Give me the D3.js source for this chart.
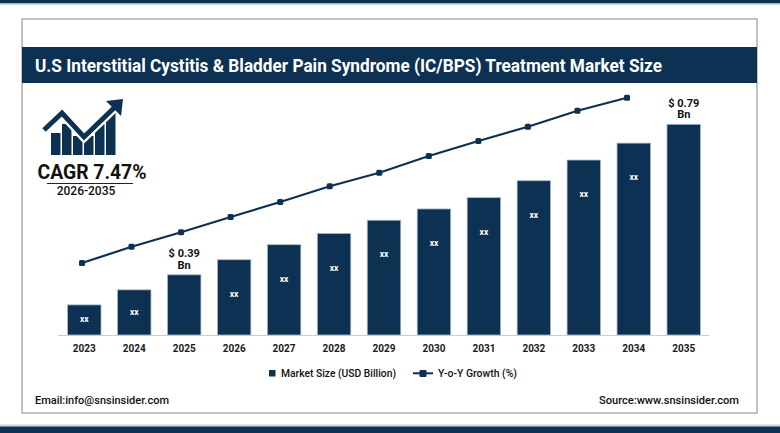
<!DOCTYPE html>
<html>
<head>
<meta charset="utf-8">
<script src="https://cdn.jsdelivr.net/npm/d3@7"></script>
<style>
  html, body { margin: 0; padding: 0; background: #fff; }
  svg { display: block; font-family: Roboto, "Liberation Sans", sans-serif; }
</style>
</head>
<body>
<svg id="chart" width="780" height="433"></svg>
<script>
// ---- data ----
const years = ["2023","2024","2025","2026","2027","2028","2029","2030","2031","2032","2033","2034","2035"];
const marketSize = [0.31, 0.35, 0.39, 0.43, 0.47, 0.50, 0.535, 0.565, 0.595, 0.64, 0.695, 0.74, 0.79];
const barLabels = ["xx","xx","","xx","xx","xx","xx","xx","xx","xx","xx","xx",""];
const growthYears = ["2023","2024","2025","2026","2027","2028","2029","2030","2031","2032","2033","2034"];
const growth = [2.88, 3.53, 4.11, 4.72, 5.32, 5.95, 6.49, 7.16, 7.76, 8.33, 8.97, 9.49];
const callouts = [{year: "2025", text: ["$ 0.39", "Bn"]}, {year: "2035", text: ["$ 0.79", "Bn"]}];
const titleText = "U.S Interstitial Cystitis & Bladder Pain Syndrome (IC/BPS) Treatment Market Size";
const cagrText = "CAGR 7.47%";
const cagrPeriod = "2026-2035";
const legendItems = ["Market Size (USD Billion)", "Y-o-Y Growth (%)"];
const footerLeft = "Email:info@snsinsider.com";
const footerRight = "Source:www.snsinsider.com";

const NAVY = "#0c3152";
const svg = d3.select("#chart");

// ---- frame ----
svg.append("rect").attr("x",0).attr("y",0).attr("width",780).attr("height",3.5).attr("fill",NAVY);
svg.append("rect").attr("x",0).attr("y",3.5).attr("width",780).attr("height",1.5).attr("fill","#c9d4de");
svg.append("rect").attr("x",0).attr("y",424.5).attr("width",780).attr("height",2).attr("fill","#c9d4de");
svg.append("rect").attr("x",0).attr("y",426.5).attr("width",780).attr("height",6.5).attr("fill",NAVY);

svg.append("rect").attr("x",22).attr("y",19).attr("width",735).attr("height",394)
  .attr("fill","#fff").attr("stroke","#9a9a9a").attr("stroke-width",1.2);
svg.append("rect").attr("x",22).attr("y",47).attr("width",735).attr("height",36).attr("fill",NAVY);
svg.append("text").attr("x",35).attr("y",72).attr("fill","#fff")
  .attr("font-size",19).attr("font-weight",700)
  .attr("textLength",627).attr("lengthAdjust","spacingAndGlyphs")
  .text(titleText);

// ---- CAGR icon ----
const icon = svg.append("g");
const iconBars = [[51,133],[62,124],[73,136],[84,136],[95,124],[106,112]];
icon.selectAll("rect").data(iconBars).join("rect")
  .attr("x",d=>d[0]).attr("y",d=>d[1]).attr("width",9.5).attr("height",d=>155-d[1]).attr("fill",NAVY);
const zig = [[44,130],[62,113],[84,137],[116,106]];
icon.append("polyline").attr("points",zig.map(p=>p.join(",")).join(" "))
  .attr("fill","none").attr("stroke","#fff").attr("stroke-width",9.5).attr("stroke-linejoin","miter");
icon.append("polyline").attr("points",zig.map(p=>p.join(",")).join(" "))
  .attr("fill","none").attr("stroke",NAVY).attr("stroke-width",5).attr("stroke-linejoin","miter");
icon.append("polygon").attr("points","106,101 123,99 121,116").attr("fill",NAVY);

svg.append("text").attr("x",92).attr("y",179).attr("text-anchor","middle")
  .attr("font-size",20).attr("font-weight",700).attr("fill","#111")
  .attr("textLength",109).attr("lengthAdjust","spacingAndGlyphs").text(cagrText);
svg.append("line").attr("x1",47).attr("x2",133).attr("y1",183.5).attr("y2",183.5)
  .attr("stroke","#222").attr("stroke-width",1);
svg.append("text").attr("x",86).attr("y",195).attr("text-anchor","middle")
  .attr("font-size",12).attr("font-weight",500).attr("fill","#111").text(cagrPeriod);

// ---- scales ----
const x = d3.scaleBand().domain(years).range([59.3, 708.7]).paddingInner(0.33).paddingOuter(0.165);
const y = d3.scaleLinear().domain([0.23, 0.79]).range([335, 124.3]);
const xl = d3.scalePoint().domain(growthYears).range([82, 627]);
const y2 = d3.scaleLinear().domain([0, 10]).range([335, 85]);

// ---- bars ----
svg.append("g").selectAll("rect").data(years).join("rect")
  .attr("x", d => x(d)).attr("width", x.bandwidth())
  .attr("y", (d,i) => y(marketSize[i])).attr("height", (d,i) => y.range()[0] - y(marketSize[i]))
  .attr("fill", NAVY).attr("stroke","#a9b8c6").attr("stroke-width",0.8);

svg.append("g").selectAll("text").data(years).join("text")
  .attr("x", d => x(d) + x.bandwidth()/2)
  .attr("y", (d,i) => { const top = y(marketSize[i]); const h = y.range()[0]-top; return top + Math.min(h*0.5, 35); })
  .attr("dominant-baseline","middle").attr("text-anchor","middle")
  .attr("font-size",8.5).attr("font-weight",700).attr("fill","#fff")
  .text((d,i) => barLabels[i]);

// axis
const axis = svg.append("g").attr("transform","translate(0,335)")
  .call(d3.axisBottom(x).tickSize(0).tickPadding(10));
axis.select(".domain").attr("stroke","#cccccc").attr("stroke-width",1.2)
  .attr("d","M58,0.5H709");
axis.selectAll("text").attr("font-size",10).attr("font-weight",700).attr("fill","#1a1a1a")
  .attr("font-family","Roboto, sans-serif");

// callouts
callouts.forEach(c => {
  const i = years.indexOf(c.year);
  const cx = x(c.year) + x.bandwidth()/2;
  const top = y(marketSize[i]);
  svg.append("text").attr("x",cx).attr("y",top-17.5).attr("text-anchor","middle")
    .attr("font-size",11).attr("font-weight",700).attr("fill","#111").text(c.text[0]);
  svg.append("text").attr("x",cx).attr("y",top-6).attr("text-anchor","middle")
    .attr("font-size",11).attr("font-weight",700).attr("fill","#111").text(c.text[1]);
});

// ---- growth line ----
const line = d3.line().x((d,i) => xl(growthYears[i])).y(d => y2(d));
svg.append("path").datum(growth).attr("d", line)
  .attr("fill","none").attr("stroke",NAVY).attr("stroke-width",2.2);
svg.append("g").selectAll("rect").data(growth).join("rect")
  .attr("x",(d,i)=>xl(growthYears[i])-3).attr("y",d=>y2(d)-3)
  .attr("width",6).attr("height",6).attr("rx",1.5).attr("fill",NAVY);

// ---- legend ----
const lg = svg.append("g");
lg.append("rect").attr("x",269).attr("y",370).attr("width",6.5).attr("height",6.5).attr("fill",NAVY);
lg.append("text").attr("x",281).attr("y",377).attr("font-size",10.5).attr("font-weight",500).attr("fill","#111")
  .attr("textLength",115).attr("lengthAdjust","spacingAndGlyphs").text(legendItems[0]);
lg.append("line").attr("x1",413).attr("x2",433).attr("y1",373.3).attr("y2",373.3).attr("stroke",NAVY).attr("stroke-width",2);
lg.append("rect").attr("x",419.5).attr("y",370).attr("width",7).attr("height",7).attr("rx",1).attr("fill",NAVY);
lg.append("text").attr("x",438).attr("y",377).attr("font-size",10.5).attr("font-weight",500).attr("fill","#111")
  .attr("textLength",79).attr("lengthAdjust","spacingAndGlyphs").text(legendItems[1]);

// ---- footer ----
svg.append("text").attr("x",35).attr("y",403.5).attr("font-size",11).attr("font-weight",500).attr("fill","#111")
  .attr("textLength",134).attr("lengthAdjust","spacingAndGlyphs").text(footerLeft);
svg.append("text").attr("x",739).attr("y",403.5).attr("text-anchor","end").attr("font-size",11).attr("font-weight",500).attr("fill","#111")
  .attr("textLength",140).attr("lengthAdjust","spacingAndGlyphs").text(footerRight);
</script>
</body>
</html>
